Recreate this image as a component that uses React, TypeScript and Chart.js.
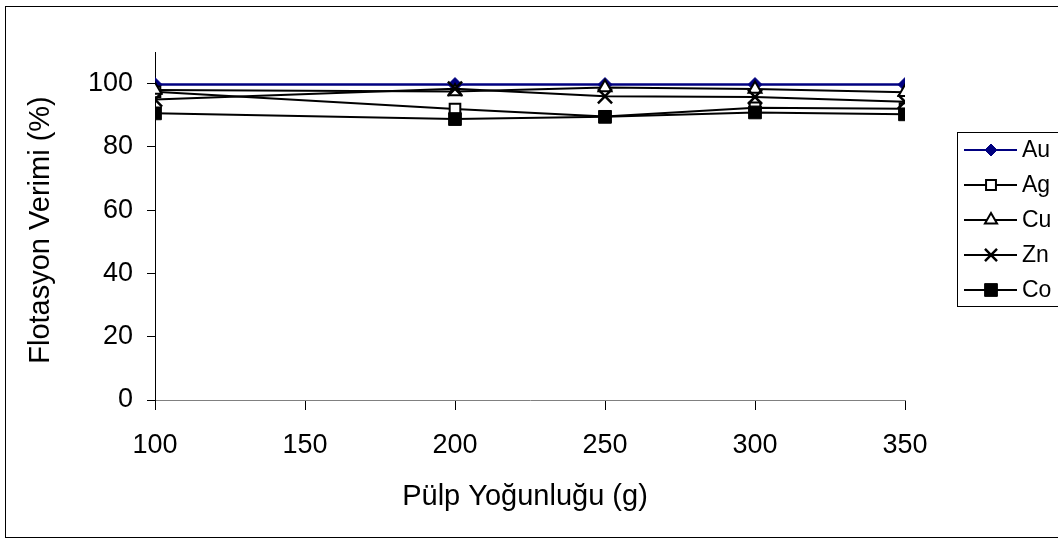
import React, { useEffect, useRef } from "react";
import { Chart, registerables } from "chart.js";
import { drawPoint } from "chart.js/helpers";

Chart.register(...registerables);

const xValues = [100, 200, 250, 300, 350];
const auValues = [99.7, 99.7, 99.7, 99.7, 99.7];
const agValues = [97.4, 92.0, 89.6, 92.4, 92.1];
const cuValues = [98.0, 97.5, 98.8, 98.3, 97.3];
const znValues = [95.0, 98.4, 96.0, 95.8, 94.3];
const coValues = [90.6, 88.8, 89.5, 90.9, 90.3];
const yTicks = [0, 20, 40, 60, 80, 100];
const xTicks = [100, 150, 200, 250, 300, 350];

const FONT = "'Liberation Sans', Arial, sans-serif";

type SeriesDef = {
  label: string;
  values: number[];
  color: string;
  pointStyle: string;
  radius: number;
  legendRadius: number;
  fill: string;
  borderWidth: number;
  order: number;
};

const series: SeriesDef[] = [
  { label: "Au", values: auValues, color: "#000080", pointStyle: "rectRot", radius: 7, legendRadius: 6, fill: "#000080", borderWidth: 1, order: 5 },
  { label: "Ag", values: agValues, color: "#000000", pointStyle: "rect", radius: 7.5, legendRadius: 7, fill: "#ffffff", borderWidth: 2, order: 4 },
  { label: "Cu", values: cuValues, color: "#000000", pointStyle: "triangle", radius: 7.5, legendRadius: 7, fill: "#ffffff", borderWidth: 2, order: 3 },
  { label: "Zn", values: znValues, color: "#000000", pointStyle: "crossRot", radius: 10, legendRadius: 8.5, fill: "#000000", borderWidth: 2.5, order: 2 },
  { label: "Co", values: coValues, color: "#000000", pointStyle: "rect", radius: 9, legendRadius: 9, fill: "#000000", borderWidth: 1, order: 1 },
];

const decorPlugin = {
  id: "decor",
  afterDraw(chart: any) {
    const ctx = chart.ctx as CanvasRenderingContext2D;
    ctx.save();
    // outer frame
    ctx.strokeStyle = "#000";
    ctx.lineWidth = 1;
    ctx.strokeRect(5.5, 6.5, 1060, 531);

    // axis titles
    ctx.fillStyle = "#000";
    ctx.font = `29px ${FONT}`;
    ctx.textAlign = "center";
    ctx.textBaseline = "middle";
    ctx.fillText("Pülp Yoğunluğu (g)", 525, 497);
    ctx.save();
    ctx.translate(41, 230);
    ctx.rotate(-Math.PI / 2);
    ctx.fillText("Flotasyon Verimi (%)", 0, 0);
    ctx.restore();

    // legend
    ctx.strokeStyle = "#000";
    ctx.lineWidth = 1;
    ctx.fillStyle = "#fff";
    ctx.fillRect(957.5, 132.5, 120, 174);
    ctx.strokeRect(957.5, 132.5, 120, 174);
    ctx.font = `23px ${FONT}`;
    ctx.textAlign = "left";
    ctx.textBaseline = "middle";
    series.forEach((s, i) => {
      const y = 150 + i * 35;
      ctx.strokeStyle = s.color;
      ctx.lineWidth = 2;
      ctx.beginPath();
      ctx.moveTo(964, y);
      ctx.lineTo(1017, y);
      ctx.stroke();
      ctx.fillStyle = s.fill;
      ctx.strokeStyle = s.color;
      ctx.lineWidth = s.borderWidth;
      drawPoint(ctx, { pointStyle: s.pointStyle as any, rotation: 0, radius: s.legendRadius, borderWidth: s.borderWidth }, 991, y);
      ctx.fillStyle = "#000";
      ctx.fillText(s.label, 1022, y + 1);
    });
    ctx.restore();
  },
};

export default function App() {
  const canvasRef = useRef<HTMLCanvasElement | null>(null);

  useEffect(() => {
    const canvas = canvasRef.current;
    if (!canvas) return;
    const chart = new Chart(canvas, {
      type: "line",
      data: {
        datasets: series.map((s) => ({
          label: s.label,
          data: xValues.map((x, i) => ({ x, y: s.values[i] })),
          borderColor: s.color,
          backgroundColor: s.fill,
          borderWidth: s.label === "Au" ? 2.5 : 2,
          pointStyle: s.pointStyle as any,
          pointRadius: s.radius,
          pointBorderWidth: s.borderWidth,
          pointBorderColor: s.color,
          pointBackgroundColor: s.fill,
          tension: 0,
          order: s.order,
        })),
      },
      options: {
        responsive: false,
        animation: false,
        devicePixelRatio: 1,
        layout: { padding: { top: 52, right: 153, left: 0, bottom: 0 } },
        plugins: {
          legend: { display: false },
          tooltip: { enabled: false },
        },
        scales: {
          x: {
            type: "linear",
            min: 100,
            max: 350,
            afterBuildTicks: (scale: any) => {
              scale.ticks = xTicks.map((v) => ({ value: v }));
            },
            afterFit: (scale: any) => {
              scale.height = 140;
            },
            ticks: {
              color: "#000",
              font: { family: FONT, size: 27 },
              padding: 19,
              maxRotation: 0,
              autoSkip: false,
            },
            grid: { drawOnChartArea: false, drawTicks: true, tickLength: 10, color: "#000" },
            border: { color: "#808080", width: 1 },
          },
          y: {
            type: "linear",
            min: 0,
            max: 110,
            afterBuildTicks: (scale: any) => {
              scale.ticks = yTicks.map((v) => ({ value: v }));
            },
            afterFit: (scale: any) => {
              scale.width = 155;
            },
            ticks: {
              color: "#000",
              font: { family: FONT, size: 27 },
              padding: 14,
              autoSkip: false,
            },
            grid: { drawOnChartArea: false, drawTicks: true, tickLength: 8, color: "#000" },
            border: { color: "#000", width: 1 },
          },
        },
      },
      plugins: [decorPlugin],
    });
    return () => chart.destroy();
  }, []);

  return (
    <div style={{ position: "fixed", left: 0, top: 0, width: 1058, height: 540, background: "#fff" }}>
      <canvas ref={canvasRef} width={1058} height={540} style={{ width: 1058, height: 540, display: "block" }} />
    </div>
  );
}
